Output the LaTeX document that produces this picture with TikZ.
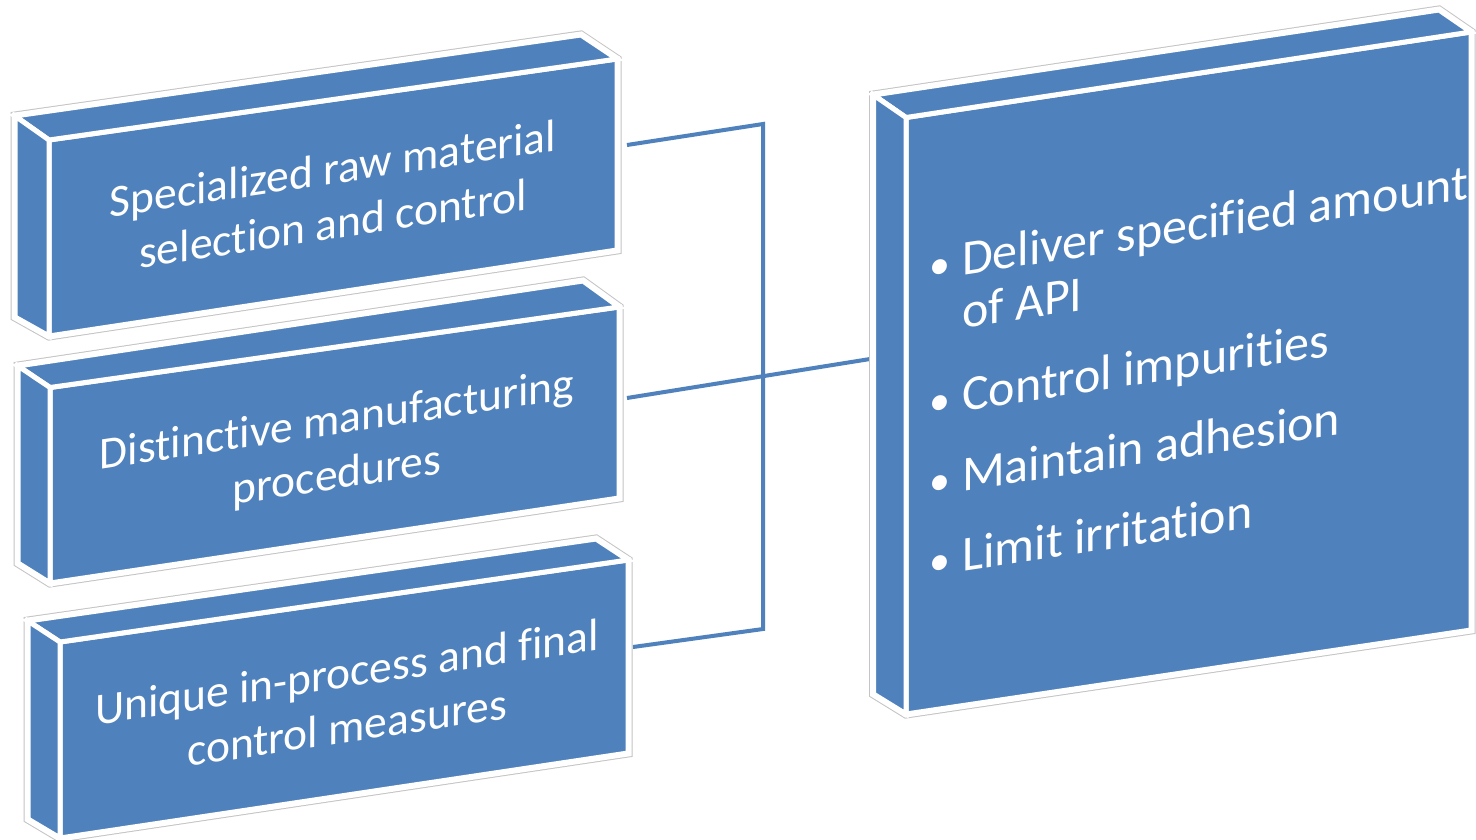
\documentclass[tikz,border=0pt]{standalone}
\usepackage{fontspec}
\setmainfont{Carlito}[Ligatures=NoCommon, RawFeature={-liga;-clig;-calt}]
\definecolor{pblue}{HTML}{4F81BD}
\definecolor{rimgrey}{HTML}{C4C4C4}
\tikzset{
  rimg/.style={draw=rimgrey, line width=9pt, line join=miter},
  rimw/.style={draw=white, line width=7pt, line join=miter},
  face/.style={fill=pblue, draw=white, line width=5pt, line join=miter},
  conn/.style={draw=pblue, line width=4pt},
  boxtext/.style={text=white, align=center, yslant=0.15, inner sep=0pt,
    font=\fontsize{45.5}{55}\selectfont},
  listtext/.style={text=white, align=left, yslant=0.15, inner sep=0pt,
    anchor=north west, font=\fontsize{50}{53}\selectfont},
}
\newcommand\slabbox[8]{% name, front TL, TR, BR, BL, back TL, TR, BL
  \coordinate (#1ftl) at (#2);
  \coordinate (#1ftr) at (#3);
  \coordinate (#1fbr) at (#4);
  \coordinate (#1fbl) at (#5);
  \coordinate (#1btl) at (#6);
  \coordinate (#1btr) at (#7);
  \coordinate (#1bbl) at (#8);
  \path[rimg] (#1btl) -- (#1btr) -- (#1ftr) -- (#1fbr) -- (#1fbl) -- (#1bbl) -- cycle;
  \path[rimw] (#1btl) -- (#1btr) -- (#1ftr) -- (#1fbr) -- (#1fbl) -- (#1bbl) -- cycle;
  \path[face] (#1ftl) -- (#1ftr) -- (#1fbr) -- (#1fbl) -- cycle;
  \path[face] (#1btl) -- (#1btr) -- (#1ftr) -- (#1ftl) -- cycle;
  \path[face] (#1btl) -- (#1ftl) -- (#1fbl) -- (#1bbl) -- cycle;
}
\newcommand\bul{\makebox[44pt][c]{\fontsize{42}{53}\selectfont •}}
\begin{document}
\begin{tikzpicture}[x=1pt,y=-1pt]
  \useasboundingbox[fill=white] (0,0) rectangle (1476,839);
  % connectors
  \coordinate (c1) at (627,145);
  \coordinate (j1) at (763,124);
  \coordinate (j3) at (763,629);
  \coordinate (c3) at (633,647);
  \coordinate (c2) at (627,398);
  \coordinate (c4) at (870,359);
  \draw[conn] (c1) -- (j1) -- (j3) -- (c3);
  \draw[conn] (c2) -- (c4);
  % boxes
  \slabbox{b1}{49,140}{617,59}{617,250}{49,336}{15,116}{581,35}{15,317}
  \slabbox{b2}{50,387.5}{619,307}{619,498}{50,583}{18,366}{583,281}{18,563}
  \slabbox{b3}{60,642}{628,560}{628,753}{60,838}{28,621}{596,539}{28,819}
  \slabbox{b4}{906,117.5}{1471,32}{1471,630}{906,714}{873.5,95}{1439,10}{873.5,694}
  % texts
  \node[boxtext] (t1) at (333,200.5) {\strut Specialized raw material\\\strut selection and control};
  \node[boxtext] (t2) at (337,450.5) {\strut Distinctive manufacturing\\\strut procedures};
  \node[boxtext] (t3) at (347,704) {\strut Unique in-process and final\\\strut control measures};
  \node[listtext] (t4) at (918,244.5) {\strut\bul Deliver specified amount\\
    \strut\hspace*{44pt}of API\\[30pt]
    \strut\bul Control impurities\\[27pt]
    \strut\bul Maintain adhesion\\[27pt]
    \strut\bul Limit irritation};
\end{tikzpicture}
\end{document}
